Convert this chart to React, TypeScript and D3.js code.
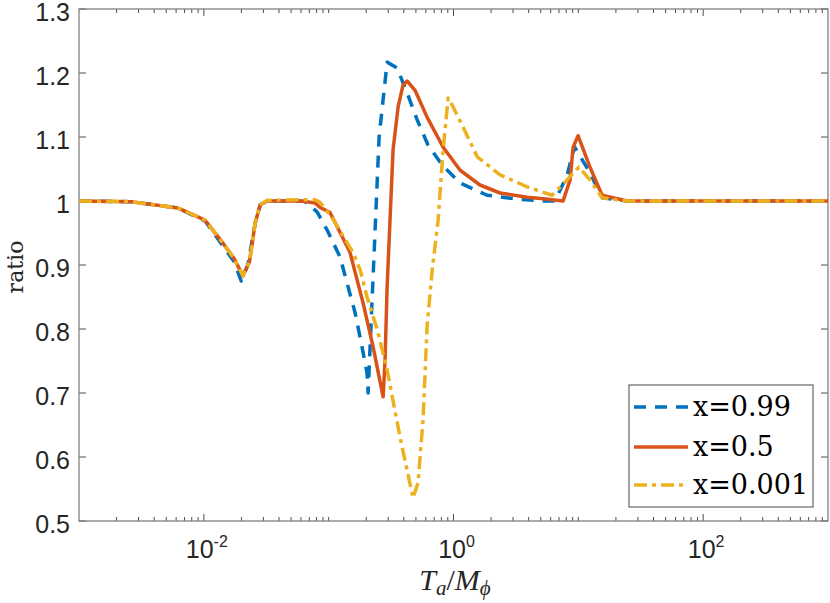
import React, { useEffect, useRef } from "react";
import * as d3 from "d3";

// x = 0.99 (blue, dashed)
const xHigh = [0.001, 0.0026, 0.0062, 0.0077, 0.0102, 0.0135, 0.0175, 0.0199, 0.0225, 0.0258, 0.0283, 0.032, 0.06, 0.0647, 0.0808, 0.097, 0.123, 0.143, 0.163, 0.185, 0.203, 0.207, 0.2535, 0.294, 0.353, 0.425, 0.511, 0.625, 0.811, 1.13, 1.86, 3.24, 5.22, 6.5, 8.13, 9.3, 12.4, 15.5, 24.6, 1000];
const ratioHigh = [1.0, 0.999, 0.989, 0.98, 0.969, 0.936, 0.905, 0.875, 0.9, 0.966, 0.994, 1.0, 1.0, 0.999, 0.983, 0.955, 0.913, 0.866, 0.825, 0.772, 0.731, 0.7, 1.1, 1.217, 1.208, 1.169, 1.127, 1.0875, 1.056, 1.028, 1.009, 1.003, 1.0, 1.0, 1.04, 1.085, 1.044, 1.005, 1.0, 1.0];

// x = 0.5 (orange, solid)
const xMid = [0.001, 0.0026, 0.0062, 0.0077, 0.0102, 0.0135, 0.0175, 0.0206, 0.0232, 0.0258, 0.0283, 0.032, 0.06, 0.078, 0.0853, 0.1025, 0.117, 0.148, 0.189, 0.227, 0.273, 0.283, 0.294, 0.31, 0.328, 0.36, 0.394, 0.425, 0.492, 0.614, 0.826, 1.13, 1.63, 2.36, 3.89, 5.5, 7.55, 8.59, 9.08, 9.95, 12.4, 15.5, 24.6, 1000];
const ratioMid = [1.0, 0.999, 0.989, 0.981, 0.97, 0.94, 0.91, 0.883, 0.905, 0.966, 0.994, 1.0, 1.0, 0.997, 0.99, 0.982, 0.96, 0.92, 0.84, 0.772, 0.694, 0.752, 0.866, 0.97, 1.08, 1.147, 1.181, 1.1875, 1.173, 1.131, 1.084, 1.048, 1.025, 1.0125, 1.006, 1.003, 1.0, 1.033, 1.084, 1.102, 1.053, 1.009, 1.0, 1.0];

// x = 0.001 (yellow, dash-dot)
const xLow = [0.001, 0.0026, 0.0062, 0.0077, 0.0102, 0.0135, 0.0175, 0.0206, 0.0232, 0.0258, 0.0283, 0.032, 0.06, 0.078, 0.0853, 0.108, 0.157, 0.179, 0.203, 0.244, 0.294, 0.373, 0.474, 0.52, 0.57, 0.614, 0.675, 0.753, 0.826, 0.906, 0.993, 1.19, 1.55, 2.36, 3.89, 6.17, 8.13, 10.1, 12.4, 15.5, 24.6, 1000];
const ratioLow = [1.0, 0.999, 0.989, 0.981, 0.97, 0.94, 0.91, 0.883, 0.905, 0.966, 0.994, 1.001, 1.002, 1.002, 0.998, 0.972, 0.919, 0.892, 0.85, 0.8, 0.736, 0.631, 0.536, 0.56, 0.658, 0.803, 0.892, 0.97, 1.08, 1.161, 1.147, 1.116, 1.069, 1.041, 1.022, 1.009, 1.033, 1.053, 1.033, 1.005, 1.0, 1.0];

const seriesLabels = ["x=0.99", "x=0.5", "x=0.001"];
const yTicks = [0.5, 0.6, 0.7, 0.8, 0.9, 1.0, 1.1, 1.2, 1.3];
const xMajorExp = [-2, 0, 2];

const W = 830;
const H = 603;

export default function App() {
  const ref = useRef<SVGSVGElement>(null);

  useEffect(() => {
    const svg = d3.select(ref.current);
    svg.selectAll("*").remove();
    const left = 79, right = 828, top = 9, bottom = 521;

    const x = d3.scaleLog().domain([1e-3, 1e3]).range([left, right]);
    const y = d3.scaleLinear().domain([0.5, 1.3]).range([bottom, top]);

    const series = [
      { xs: xHigh, ys: ratioHigh, color: "#0072BD", dash: "12,9" },
      { xs: xMid, ys: ratioMid, color: "#D95319", dash: null },
      { xs: xLow, ys: ratioLow, color: "#EDB120", dash: "13,5,4,5" },
    ];

    const line = d3
      .line<[number, number]>()
      .x((d) => x(d[0]))
      .y((d) => y(d[1]));

    svg.append("rect").attr("width", W).attr("height", H).attr("fill", "#fff");

    // minor x ticks (every 1..9 x 10^k), major at labelled decades
    const tickCol = "#4d4d4d";
    const minor: number[] = [];
    for (let e = -3; e < 3; e++) for (let m = 1; m < 10; m++) minor.push(m * Math.pow(10, e));
    minor.forEach((v) => {
      const px = x(v);
      if (px <= left + 0.5 || px >= right - 0.5) return;
      const isMajor = xMajorExp.some((e) => Math.abs(Math.log10(v) - e) < 1e-9);
      const len = isMajor ? 7 : 4;
      svg.append("line").attr("x1", px).attr("x2", px).attr("y1", bottom).attr("y2", bottom - len)
        .attr("stroke", tickCol).attr("stroke-width", 1);
      svg.append("line").attr("x1", px).attr("x2", px).attr("y1", top).attr("y2", top + len)
        .attr("stroke", tickCol).attr("stroke-width", 1);
    });

    // y ticks left & right
    yTicks.forEach((v) => {
      const py = y(v);
      svg.append("line").attr("x1", left).attr("x2", left + 7).attr("y1", py).attr("y2", py)
        .attr("stroke", tickCol).attr("stroke-width", 1);
      svg.append("line").attr("x1", right).attr("x2", right - 7).attr("y1", py).attr("y2", py)
        .attr("stroke", tickCol).attr("stroke-width", 1);
      svg.append("text").attr("x", 70).attr("y", py + 11.5).attr("text-anchor", "end")
        .attr("font-family", "Liberation Sans, Arial, sans-serif").attr("font-size", 25)
        .attr("fill", "#262626").text(String(+v.toFixed(1)));
    });

    // x tick labels 10^k
    xMajorExp.forEach((e) => {
      const t = svg.append("text").attr("x", x(Math.pow(10, e)) + 3).attr("y", 558)
        .attr("text-anchor", "middle")
        .attr("font-family", "Liberation Sans, Arial, sans-serif").attr("font-size", 25)
        .attr("fill", "#262626");
      t.append("tspan").text("10");
      t.append("tspan").attr("dy", -11).attr("font-size", 16).text(String(e));
    });

    // box
    svg.append("rect").attr("x", left).attr("y", top).attr("width", right - left).attr("height", bottom - top)
      .attr("fill", "none").attr("stroke", "#808080").attr("stroke-width", 1.3);

    // curves
    series.forEach((s) => {
      const pts = s.xs.map((v, i) => [v, s.ys[i]] as [number, number]);
      svg.append("path").attr("d", line(pts)).attr("fill", "none")
        .attr("stroke", s.color).attr("stroke-width", 3.5)
        .attr("stroke-linejoin", "round")
        .attr("stroke-dasharray", s.dash);
    });

    // axis labels
    svg.append("text").attr("transform", "translate(23,267) rotate(-90)").attr("text-anchor", "middle")
      .attr("font-family", "DejaVu Serif, serif").attr("font-size", 22).attr("fill", "#262626")
      .text("ratio");

    const xl = svg.append("text").attr("x", 455).attr("y", 590).attr("text-anchor", "middle")
      .attr("font-family", "Liberation Serif, serif").attr("font-size", 30).attr("fill", "#262626");
    xl.append("tspan").attr("font-style", "italic").text("T");
    xl.append("tspan").attr("font-style", "italic").attr("font-size", 21).attr("dy", 5).text("a");
    xl.append("tspan").attr("dy", -5).text("/");
    xl.append("tspan").attr("font-style", "italic").text("M");
    xl.append("tspan").attr("font-style", "italic").attr("font-size", 21).attr("dy", 5).text("ϕ");

    // legend
    const lg = svg.append("g");
    lg.append("rect").attr("x", 629).attr("y", 385).attr("width", 184).attr("height", 122)
      .attr("fill", "#fff").attr("stroke", "#666").attr("stroke-width", 1.2);
    const rowY = [407, 447, 485];
    series.forEach((s, i) => {
      lg.append("line").attr("x1", 634).attr("x2", 688).attr("y1", rowY[i]).attr("y2", rowY[i])
        .attr("stroke", s.color).attr("stroke-width", 3.5).attr("stroke-dasharray", s.dash);
      lg.append("text").attr("x", 693).attr("y", rowY[i] + 9)
        .attr("font-family", "DejaVu Serif, serif").attr("font-size", 27).attr("fill", "#000")
        .text(seriesLabels[i]);
    });
  }, []);

  return (
    <div style={{ position: "absolute", left: 0, top: 0 }}>
      <svg ref={ref} width={W} height={H} style={{ display: "block" }}></svg>
    </div>
  );
}
